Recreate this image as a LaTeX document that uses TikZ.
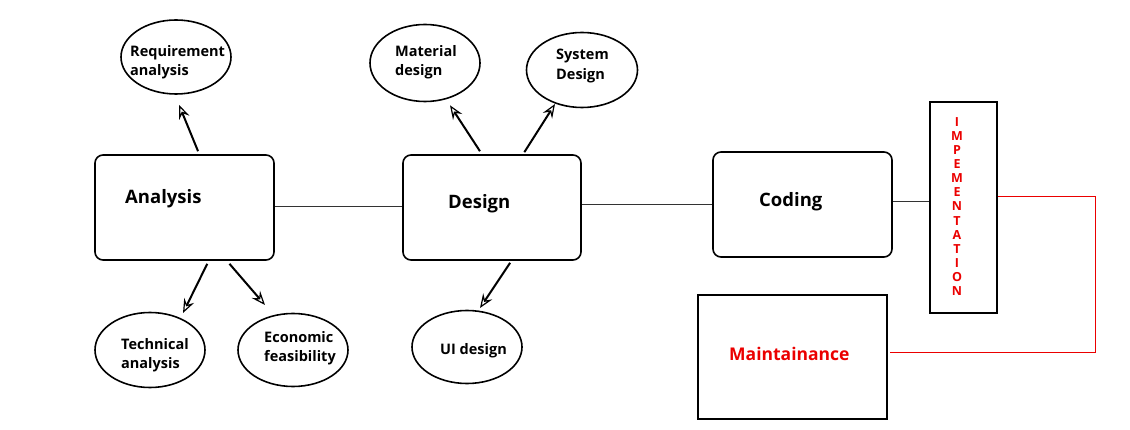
\documentclass[tikz,border=0pt]{standalone}
\usepackage{fontspec}
\setmainfont{Open Sans}
\usetikzlibrary{arrows.meta,calc,shapes.geometric}
\definecolor{myred}{RGB}{235,0,0}
\begin{document}
\begin{tikzpicture}[x=1pt,y=-1pt,
  bubble/.style={ellipse,draw,line width=1.6pt,minimum width=110pt,minimum height=74pt,inner sep=0pt},
  btext/.style={anchor=west,inner sep=0pt,align=left,font=\fontsize{14.5}{19.5}\selectfont\bfseries},
  mainbox/.style={draw,line width=1.6pt,rounded corners=8pt,minimum width=179pt,minimum height=105pt,inner sep=0pt},
  boxlabel/.style={anchor=west,inner sep=0pt,font=\fontsize{18.5}{20}\selectfont\bfseries},
  arr/.style={line width=2pt,-{Stealth[open,line width=1.2pt,length=14pt,width=11pt,inset=5pt]}},
  link/.style={line width=0.6pt,draw=black!80}]
\useasboundingbox[fill=white] (0,0) rectangle (1130,430);
% ellipses
\node[bubble] (req) at (176,57) {};
\node[btext] (reqt) at (130,62) {Requirement\\analysis};
\node[bubble,minimum height=77pt] (mat) at (425,63) {};
\node[btext] (matt) at (395,62) {Material\\design};
\node[bubble,minimum width=111pt,minimum height=75pt] (sys) at (582,70) {};
\node[btext] (syst) at (556,66) {System\\Design};
\node[bubble,minimum height=75pt] (tec) at (150,350) {};
\node[btext] (tect) at (121,355) {Technical\\analysis};
\node[bubble,minimum height=73pt] (eco) at (293,350) {};
\node[btext] (ecot) at (264,348) {Economic\\feasibility};
\node[bubble,minimum height=73pt] (ui) at (467,347) {};
\node[btext] (uit) at (440,351) {UI design};
% main boxes
\node[mainbox] (ana) at (184.5,207.5) {};
\node[boxlabel] (anat) at (125,199) {Analysis};
\node[mainbox,minimum width=178pt] (des) at (492,207.5) {};
\node[boxlabel] (dest) at (448,204) {Design};
\node[mainbox] (cod) at (802.5,204.5) {};
\node[boxlabel] (codt) at (759,202) {Coding};
\node[draw,line width=2.4pt,minimum width=67pt,minimum height=211pt,inner sep=0pt] (imp) at (963.5,207.5) {};
\node[text=myred,align=center,font=\fontsize{12.5}{14.1}\selectfont\bfseries] (impt) at (957,206.5)
  {I\\M\\P\\E\\M\\E\\N\\T\\A\\T\\I\\O\\N};
\node[draw,line width=1.8pt,minimum width=189pt,minimum height=124pt,inner sep=0pt] (mai) at (792.5,357) {};
\node[boxlabel,text=myred,font=\fontsize{17.5}{20}\selectfont\bfseries] (mait) at (729,354) {Maintainance};
% arrows
\draw[arr] ($(ana.north west)!0.575!(ana.north east)+(0,-3)$) -- ($(req.south)+(3,10)$);
\draw[arr] ($(des.north west)!0.433!(des.north east)+(0,-3)$) -- ($(mat.south)+(25,3)$);
\draw[arr] ($(des.north west)!0.68!(des.north east)+(0,-2)$) -- ($(sys.center)+(-27,34)$);
\draw[arr] ($(ana.south west)!0.626!(ana.south east)+(0,3)$) -- ($(tec.center)+(33,-37)$);
\draw[arr] ($(ana.south west)!0.749!(ana.south east)+(0,3)$) -- ($(eco.center)+(-28,-45)$);
\draw[arr] ($(des.south west)!0.601!(des.south east)+(0,2)$) -- ($(ui.center)+(13,-39)$);
% connectors
\draw[link] ($(ana.east)+(0,-1.5)$) -- ($(des.west)+(0,-1.5)$);
\draw[link] (des.east |- cod.west) -- (cod.west);
\draw[link] ($(cod.east)+(0,-3.5)$) -- ($(cod.east -| imp.west)+(0,-3.5)$);
\coordinate (rc) at (1095,196);
\draw[myred,line width=0.8pt] (imp.east |- rc) -- (rc) |- ($(mai.east)+(2,-5)$);
\end{tikzpicture}
\end{document}
